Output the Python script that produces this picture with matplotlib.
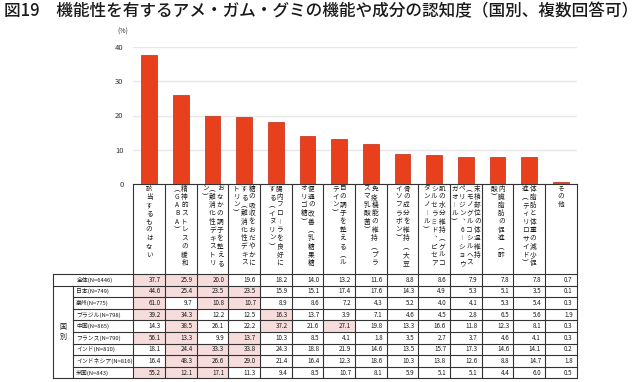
import numpy as np
import matplotlib.pyplot as plt

plt.rcParams['font.family'] = ['Noto Sans CJK JP', 'DejaVu Sans']

title = '図19　機能性を有するアメ・ガム・グミの機能や成分の認知度（国別、複数回答可）'

# category labels, written as vertical columns (rightmost column first)
label_cols = [
    ['該当するものはない'],
    ['精神的ストレスの緩和', '（GABA）'],
    ['おなかの調子を整える', '（難消化性デキストリ', 'ン）'],
    ['糖の吸収をおだやかに', 'する（難消化性デキス', 'トリン）'],
    ['腸内フローラを良好に', 'する（イヌリン）'],
    ['便通の改善（乳糖果糖', 'オリゴ糖）'],
    ['目の調子を整える（ル', 'テイン）'],
    ['免疫機能の維持（プラ', 'ズマ乳酸菌）'],
    ['骨の成分を維持（大豆', 'イソフラボン）'],
    ['肌の水分維持（グルコ', 'シルセラミド、ピセア', 'タンノール）'],
    ['末梢部位の体温維持', '（モノグルコシルヘス', 'ペリジン、6-ショウ', 'ガオール）'],
    ['内臓脂肪の促進（酢', '酸）'],
    ['体脂肪と体重の減少促', '進（ティリロサイド）'],
    ['その他'],
]

overall_name = '全体(N=6446)'
overall = [37.7, 25.9, 20.0, 19.6, 18.2, 14.0, 13.2, 11.6, 8.8, 8.6, 7.9, 7.8, 7.8, 0.7]

countries = ['日本(N=749)', '豪州(N=775)', 'ブラジル(N=798)', '中国(N=865)', 'フランス(N=790)',
             'インド(N=810)', 'インドネシア(N=816)', '米国(N=843)']
japan = [44.6, 25.4, 23.5, 23.5, 15.9, 15.1, 17.4, 17.6, 14.3, 4.9, 5.3, 5.1, 3.5, 0.1]
australia = [61.0, 9.7, 10.8, 10.7, 8.9, 8.6, 7.2, 4.3, 5.2, 4.0, 4.1, 5.3, 5.4, 0.3]
brazil = [39.2, 34.3, 12.2, 12.5, 16.3, 13.7, 3.9, 7.1, 4.6, 4.5, 2.8, 6.5, 5.6, 1.9]
china = [14.3, 38.5, 26.1, 22.2, 37.2, 21.6, 27.1, 19.8, 13.3, 16.6, 11.8, 12.3, 8.1, 0.3]
france = [56.1, 13.3, 9.9, 13.7, 10.3, 8.5, 4.1, 1.8, 3.5, 2.7, 3.7, 4.6, 4.1, 0.3]
india = [18.1, 24.4, 33.3, 33.8, 24.3, 18.8, 21.9, 14.6, 13.5, 15.7, 17.3, 14.6, 14.1, 0.2]
indonesia = [16.4, 48.3, 26.6, 29.0, 21.4, 16.4, 12.3, 18.6, 10.3, 13.8, 12.6, 8.8, 14.7, 1.8]
usa = [55.2, 12.1, 17.1, 11.3, 9.4, 8.5, 10.7, 8.1, 5.9, 5.1, 5.1, 4.4, 6.0, 0.5]
country_vals = [japan, australia, brazil, china, france, india, indonesia, usa]

yticks = [0, 10, 20, 30, 40]

# layout in pixels
W, H = 640, 382
X0, X1 = 133.3, 576.7
Y_TOP, Y_ZERO = 47, 184
LAB_BOT = 274
ROW_H = 11.6
T_LEFT, G_RIGHT = 53, 73
LINE = '#333333'
PINK = '#f7dcdc'

fig = plt.figure(figsize=(6.4, 3.82), dpi=100)

# bar chart
ax = fig.add_axes([X0 / W, 1 - Y_ZERO / H, (X1 - X0) / W, (Y_ZERO - Y_TOP) / H])
n = len(overall)
x = np.arange(n)
ax.bar(x, overall, width=0.5, color='#e8401c', edgecolor='#c42a14', linewidth=0.5, zorder=3)
ax.set_xlim(-0.5, n - 0.5)
ax.set_ylim(0, 40)
ax.set_yticks(yticks)
ax.set_xticks([])
ax.tick_params(axis='y', length=0, pad=7, labelsize=5.5, labelcolor='#333333')
ax.grid(axis='y', color='#e8e8e8', linewidth=1)
for s in ['top', 'right', 'left']:
    ax.spines[s].set_visible(False)
ax.spines['bottom'].set_color(LINE)
ax.spines['bottom'].set_linewidth(0.8)

# overlay in pixel coordinates for labels and table
tb = fig.add_axes([0, 0, 1, 1])
tb.set_xlim(0, W)
tb.set_ylim(H, 0)
tb.axis('off')

fig.text(4 / W, 1 - 11 / H, title, va='center', ha='left', fontsize=12,
         fontweight='medium', color='#1a1a1a')
tb.text(123, 32, '(%)', ha='center', va='center', fontsize=5, color='#333333')

CW = (X1 - X0) / n
col_x = X0 + np.arange(n + 1) * CW

vert = {'（': '︵', '）': '︶', 'ー': '︱', '、': '︑', '-': '︱'}
pitch = 8.3
for i, cols in enumerate(label_cols):
    cx = X0 + (i + 0.5) * CW
    k = len(cols)
    for j, s in enumerate(cols):
        tx = cx + (k - 1) / 2 * 7.6 - j * 7.6
        for m, ch in enumerate(s):
            tb.text(tx, 188.5 + m * pitch, vert.get(ch, ch), ha='center', va='center',
                    fontsize=4.8, color='#1a1a1a')

# table
rows = [overall] + country_vals
names = [overall_name] + countries
nr = len(rows)
T_BOT = LAB_BOT + nr * ROW_H
for r, vals in enumerate(rows):
    y0 = LAB_BOT + r * ROW_H
    top3 = sorted(vals, reverse=True)[2]
    for i, v in enumerate(vals):
        if v >= top3:
            tb.add_patch(plt.Rectangle((col_x[i], y0), CW, ROW_H, color=PINK, lw=0))
        tb.text(col_x[i + 1] - 4, y0 + ROW_H / 2, f'{v:.1f}', ha='right', va='center',
                fontsize=4.5, color='#1a1a1a')
    tb.text(G_RIGHT + 3 if r > 0 else 77, y0 + ROW_H / 2, names[r], ha='left', va='center',
            fontsize=4.2, color='#1a1a1a')

tb.text((T_LEFT + G_RIGHT) / 2, LAB_BOT + ROW_H + (nr - 1) * ROW_H / 2, '国\n別',
        ha='center', va='center', fontsize=5, linespacing=1.3, color='#1a1a1a')

lw = 0.8
for xx in col_x:
    tb.plot([xx, xx], [Y_ZERO, T_BOT], color=LINE, lw=lw)
tb.plot([T_LEFT, T_LEFT], [LAB_BOT, T_BOT], color=LINE, lw=lw)
tb.plot([G_RIGHT, G_RIGHT], [LAB_BOT + ROW_H, T_BOT], color=LINE, lw=lw)
tb.plot([T_LEFT, X1], [LAB_BOT, LAB_BOT], color=LINE, lw=lw)
tb.plot([T_LEFT, X1], [LAB_BOT + ROW_H, LAB_BOT + ROW_H], color=LINE, lw=lw)
for r in range(2, nr):
    yy = LAB_BOT + r * ROW_H
    tb.plot([G_RIGHT, X1], [yy, yy], color=LINE, lw=lw)
tb.plot([T_LEFT, X1], [T_BOT, T_BOT], color=LINE, lw=lw)

fig.savefig('out.png', dpi=100)
